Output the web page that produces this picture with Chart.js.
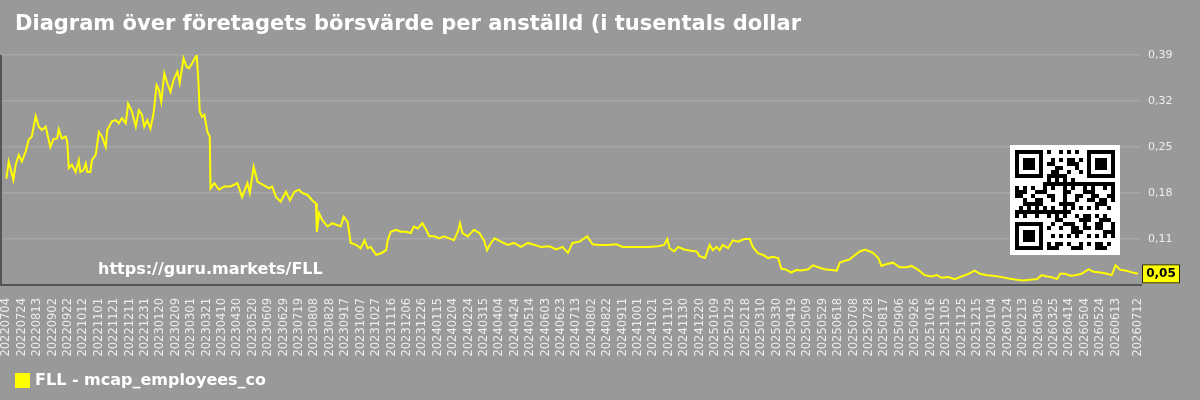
<!DOCTYPE html>
<html>
<head>
<meta charset="utf-8">
<script src="https://cdn.jsdelivr.net/npm/chart.js@4.4.1/dist/chart.umd.min.js"></script>
<style>
  html, body { margin: 0; padding: 0; background: #999999; }
  #wrap { width: 1200px; height: 400px; }
</style>
</head>
<body>
<div id="wrap"><canvas id="myChart" width="1200" height="400"></canvas></div>
<script>
// dagar räknade från 2022-07-04
var days = [0, 3, 9, 12, 16, 20, 25, 29, 33, 38, 42, 46, 51, 57, 61, 66, 68, 72, 77, 79,
    81, 85, 90, 94, 96, 100, 103, 105, 109, 111, 116, 120, 124, 129, 131, 137, 142, 146, 150, 155,
    158, 163, 168, 172, 176, 179, 183, 187, 191, 195, 198, 201, 205, 209, 213, 217, 222, 225, 230, 234,
    237, 241, 247, 249, 251, 254, 257, 261, 264, 265, 270, 276, 283, 291, 300, 306, 313, 316, 321, 326,
    334, 341, 345, 350, 356, 363, 368, 374, 380, 384, 391, 397, 402, 403, 406, 410, 417, 423, 430, 434,
    438, 443, 447, 454, 460, 465, 469, 473, 480, 486, 493, 495, 499, 506, 512, 519, 525, 529, 534, 540,
    545, 549, 556, 562, 568, 575, 581, 586, 589, 592, 599, 603, 607, 614, 620, 624, 629, 634, 642, 651,
    659, 668, 677, 686, 694, 705, 714, 722, 729, 735, 744, 754, 761, 770, 781, 792, 800, 811, 820, 833,
    846, 854, 858, 861, 867, 872, 880, 889, 896, 900, 907, 913, 917, 922, 926, 930, 937, 943, 950, 958,
    965, 969, 976, 982, 989, 995, 1002, 1006, 1013, 1019, 1026, 1032, 1041, 1047, 1054, 1062, 1071, 1078, 1082, 1089,
    1095, 1102, 1108, 1115, 1119, 1125, 1132, 1136, 1143, 1151, 1160, 1169, 1175, 1184, 1192, 1201, 1208, 1214, 1223, 1231,
    1240, 1249, 1257, 1264, 1273, 1281, 1292, 1301, 1312, 1320, 1329, 1338, 1344, 1351, 1357, 1364, 1368, 1375, 1381, 1388,
    1396, 1405, 1411, 1420, 1429, 1435, 1440, 1446, 1453, 1459, 1466, 1469];

var values = [0.202, 0.228, 0.200, 0.223, 0.238, 0.228, 0.243, 0.261, 0.266, 0.297, 0.281, 0.276, 0.281, 0.250, 0.262, 0.263, 0.277, 0.263, 0.266, 0.258,
    0.218, 0.223, 0.212, 0.230, 0.212, 0.215, 0.225, 0.212, 0.212, 0.230, 0.238, 0.273, 0.266, 0.250, 0.276, 0.289, 0.291, 0.286, 0.294, 0.286,
    0.316, 0.304, 0.281, 0.306, 0.299, 0.281, 0.291, 0.278, 0.301, 0.344, 0.337, 0.319, 0.362, 0.347, 0.334, 0.352, 0.365, 0.347, 0.385, 0.372,
    0.370, 0.377, 0.390, 0.357, 0.304, 0.296, 0.299, 0.273, 0.266, 0.187, 0.195, 0.185, 0.190, 0.190, 0.195, 0.174, 0.195, 0.180, 0.220, 0.197,
    0.192, 0.187, 0.190, 0.174, 0.167, 0.182, 0.169, 0.182, 0.185, 0.180, 0.177, 0.169, 0.164, 0.121, 0.149, 0.139, 0.129, 0.134, 0.131, 0.129,
    0.144, 0.136, 0.104, 0.101, 0.096, 0.108, 0.096, 0.098, 0.086, 0.088, 0.093, 0.108, 0.121, 0.124, 0.121, 0.121, 0.119, 0.129, 0.126, 0.134,
    0.124, 0.114, 0.114, 0.111, 0.114, 0.111, 0.108, 0.121, 0.134, 0.119, 0.114, 0.119, 0.124, 0.119, 0.108, 0.093, 0.104, 0.111, 0.106, 0.101,
    0.104, 0.098, 0.104, 0.101, 0.098, 0.099, 0.094, 0.098, 0.089, 0.104, 0.106, 0.114, 0.102, 0.101, 0.101, 0.102, 0.098, 0.098, 0.098, 0.098,
    0.099, 0.101, 0.110, 0.096, 0.091, 0.098, 0.094, 0.092, 0.091, 0.084, 0.081, 0.101, 0.093, 0.098, 0.093, 0.101, 0.096, 0.108, 0.106, 0.110,
    0.110, 0.098, 0.088, 0.086, 0.081, 0.083, 0.081, 0.065, 0.063, 0.059, 0.063, 0.062, 0.064, 0.070, 0.067, 0.064, 0.063, 0.062, 0.074, 0.077,
    0.079, 0.086, 0.091, 0.094, 0.092, 0.089, 0.081, 0.069, 0.072, 0.074, 0.067, 0.067, 0.069, 0.063, 0.055, 0.053, 0.055, 0.051, 0.052, 0.049,
    0.053, 0.057, 0.062, 0.057, 0.055, 0.054, 0.052, 0.050, 0.048, 0.047, 0.048, 0.049, 0.055, 0.053, 0.052, 0.049, 0.057, 0.057, 0.054, 0.055,
    0.057, 0.064, 0.060, 0.059, 0.057, 0.055, 0.070, 0.063, 0.062, 0.060, 0.058, 0.057];

// tick-etiketter: var 20:e dag plus sista dagen
var tickDays = [];
for (var t = 0; t <= 1440; t += 20) tickDays.push(t);
tickDays.push(1469);

var yMin = 0.04, yMax = 0.39, yStep = 0.07;

function dayToLabel(d) {
    var dt = new Date(Date.UTC(2022, 6, 4) + d * 86400000);
    return dt.getUTCFullYear() + String(dt.getUTCMonth() + 1).padStart(2, '0') + String(dt.getUTCDate()).padStart(2, '0');
}
function fmt(v) {
    return (Math.floor(v * 100 + 1e-9) / 100).toFixed(2).replace('.', ',');
}

var FONT = "'DejaVu Sans', sans-serif";

var decor = {
    id: 'decor',
    beforeDraw: function(chart) {
        var c = chart.ctx;
        c.save();
        c.fillStyle = '#999999';
        c.fillRect(0, 0, chart.width, chart.height);
        c.restore();
    },
    beforeDatasetsDraw: function(chart) {
        var c = chart.ctx, a = chart.chartArea;
        c.save();
        // vattenstämpel
        c.fillStyle = '#ffffff';
        c.font = 'bold 16px ' + FONT;
        c.textBaseline = 'middle';
        c.fillText('https://guru.markets/FLL', 98, 270);
        // vänster kant
        c.strokeStyle = '#555555';
        c.lineWidth = 2;
        c.beginPath();
        c.moveTo(a.left, a.top);
        c.lineTo(a.left, a.bottom);
        c.stroke();
        c.restore();
    },
    afterDraw: function(chart) {
        var c = chart.ctx, a = chart.chartArea;
        c.save();
        // rubrik
        c.fillStyle = '#ffffff';
        c.font = 'bold 21px ' + FONT;
        c.textBaseline = 'middle';
        c.fillText('Diagram över företagets börsvärde per anställd (i tusentals dollar', 15, 25);
        // förklaring
        c.fillStyle = '#ffff00';
        c.fillRect(15, 373, 15, 15);
        c.fillStyle = '#ffffff';
        c.font = 'bold 16px ' + FONT;
        c.fillText('FLL - mcap_employees_co', 35, 381);

        // QR-ruta (dekoration)
        var qx = 1010, qy = 145, qs = 110, n = 25, m = 4, off = 5;
        c.fillStyle = '#ffffff';
        c.fillRect(qx, qy, qs, qs);
        c.fillStyle = '#000000';
        function finder(i, j) {
            c.fillRect(qx + off + j * m, qy + off + i * m, 7 * m, 7 * m);
            c.fillStyle = '#ffffff';
            c.fillRect(qx + off + (j + 1) * m, qy + off + (i + 1) * m, 5 * m, 5 * m);
            c.fillStyle = '#000000';
            c.fillRect(qx + off + (j + 2) * m, qy + off + (i + 2) * m, 3 * m, 3 * m);
        }
        finder(0, 0); finder(0, 18); finder(18, 0);
        for (var i = 0; i < n; i++) {
            for (var j = 0; j < n; j++) {
                var inF = (i < 8 && j < 8) || (i < 8 && j > 16) || (i > 16 && j < 8);
                if (inF) continue;
                var h = (i * 31 + j * 17 + ((i * j) % 7) * 5) % 11;
                if (h < 5) c.fillRect(qx + off + j * m, qy + off + i * m, m, m);
            }
        }

        // senaste värde
        var ds = chart.getDatasetMeta(0).data;
        var last = ds[ds.length - 1];
        var y = last.y;
        c.fillStyle = '#ffff00';
        c.fillRect(a.right + 1, y - 9.5, 38, 19);
        c.strokeStyle = '#222222';
        c.lineWidth = 1;
        c.strokeRect(a.right + 1.5, y - 9, 37, 18);
        c.fillStyle = '#000000';
        c.font = 'bold 12px ' + FONT;
        c.textAlign = 'center';
        c.fillText(fmt(values[values.length - 1]), a.right + 20, y + 0.5);
        c.restore();
    }
};

var points = days.map(function(d, i) { return { x: d, y: values[i] }; });

var ctx = document.getElementById('myChart').getContext('2d');
var myChart = new Chart(ctx, {
    type: 'line',
    data: {
        datasets: [{
            label: 'FLL - mcap_employees_co',
            data: points,
            borderColor: '#ffff00',
            borderWidth: 2,
            pointRadius: 0,
            tension: 0,
            fill: false
        }]
    },
    options: {
        responsive: false,
        animation: false,
        layout: { padding: { top: 55, left: 1, right: 0, bottom: 0 } },
        plugins: {
            legend: { display: false },
            title: { display: false },
            tooltip: { enabled: false }
        },
        scales: {
            x: {
                type: 'linear',
                min: -7,
                max: 1473,
                afterBuildTicks: function(scale) {
                    scale.ticks = tickDays.map(function(v) { return { value: v }; });
                },
                afterFit: function(scale) {
                    scale.height = 115;
                    scale.paddingLeft = 0;
                    scale.paddingRight = 0;
                },
                grid: { display: false, drawTicks: false },
                border: { display: true, color: '#555555', width: 2 },
                ticks: {
                    autoSkip: false,
                    minRotation: 90,
                    maxRotation: 90,
                    padding: 13,
                    color: '#eeeeee',
                    font: { family: FONT, size: 11.5 },
                    callback: function(v) { return dayToLabel(v); }
                }
            },
            y: {
                position: 'right',
                min: yMin,
                max: yMax,
                afterFit: function(scale) { scale.width = 59; },
                grid: { color: '#a6a6a6', lineWidth: 1.5, drawTicks: false },
                border: { display: false },
                ticks: {
                    stepSize: yStep,
                    padding: 7,
                    color: '#eeeeee',
                    font: { family: FONT, size: 11 },
                    callback: function(v) {
                        if (Math.abs(v - yMin) < 1e-6) return '';
                        return v.toFixed(2).replace('.', ',');
                    }
                }
            }
        }
    },
    plugins: [decor]
});
</script>
</body>
</html>
